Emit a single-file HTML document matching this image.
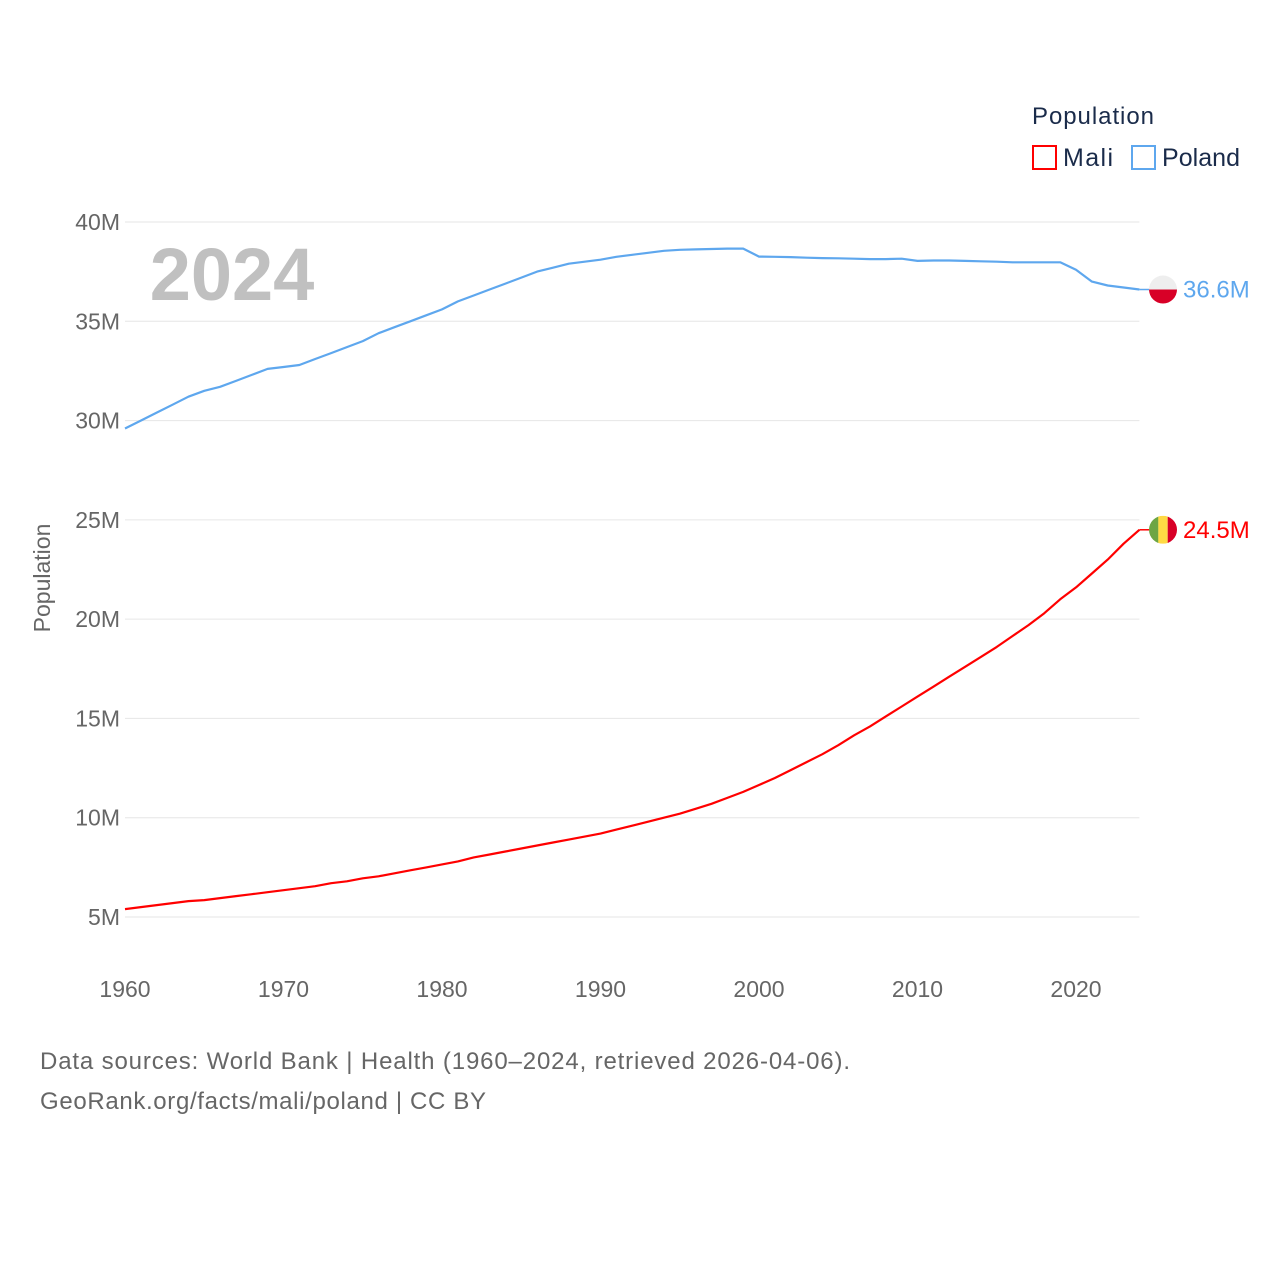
<!DOCTYPE html>
<html><head><meta charset="utf-8">
<style>
body{margin:0;background:#fff;font-family:"Liberation Sans",sans-serif;}
svg{display:block}
text{font-family:"Liberation Sans",sans-serif}
</style></head>
<body>
<svg id="chart" width="1280" height="1280" viewBox="0 0 1280 1280">
<g id="grid"></g>
<g id="yticks"></g>
<g id="xticks"></g>
<text x="232" y="300" text-anchor="middle" font-size="74" font-weight="bold" fill="#c0c0c0">2024</text>
<text transform="translate(50,578) rotate(-90)" text-anchor="middle" font-size="23" fill="#666">Population</text>
<g id="series"></g>
<g>
<text x="1032" y="124" font-size="24" fill="#1a2b4a" textLength="122">Population</text>
<g>
<rect x="1033" y="146" width="23" height="23" fill="none" stroke="#ff0000" stroke-width="2"/>
<text x="1063" y="166" font-size="25" fill="#1a2b4a" textLength="50">Mali</text></g>
<g>
<rect x="1132" y="146" width="23" height="23" fill="none" stroke="#5ea7ee" stroke-width="2"/>
<text x="1162" y="166" font-size="25" fill="#1a2b4a" textLength="78">Poland</text></g>
</g>
<text x="40" y="1069" font-size="24" fill="#666" textLength="810">Data sources: World Bank | Health (1960–2024, retrieved 2026-04-06).</text>
<text x="40" y="1109" font-size="24" fill="#666" textLength="446">GeoRank.org/facts/mali/poland | CC BY</text>
</svg>
<script>
const years = [];
for (let y = 1960; y <= 2024; y++) years.push(y);
const polandValues = [29.6,30.0,30.4,30.8,31.2,31.5,31.7,32.0,32.3,32.6,32.7,32.8,33.1,33.4,33.7,34.0,34.4,34.7,35.0,35.3,35.6,36.0,36.3,36.6,36.9,37.2,37.5,37.7,37.9,38.0,38.1,38.25,38.35,38.45,38.55,38.6,38.62,38.64,38.66,38.66,38.26,38.25,38.23,38.2,38.18,38.17,38.15,38.13,38.13,38.15,38.04,38.06,38.06,38.04,38.02,38.0,37.97,37.97,37.97,37.97,37.6,37.0,36.8,36.7,36.6];
const maliValues = [5.4,5.5,5.6,5.7,5.8,5.85,5.95,6.05,6.15,6.25,6.35,6.45,6.55,6.7,6.8,6.95,7.05,7.2,7.35,7.5,7.65,7.8,8.0,8.15,8.3,8.45,8.6,8.75,8.9,9.05,9.2,9.4,9.6,9.8,10.0,10.2,10.45,10.7,11.0,11.3,11.65,12.0,12.4,12.8,13.2,13.65,14.15,14.6,15.1,15.6,16.1,16.6,17.1,17.6,18.1,18.6,19.15,19.7,20.3,21.0,21.6,22.3,23.0,23.8,24.5];
const yTickValues = [5,10,15,20,25,30,35,40];
const yTickLabels = ["5M","10M","15M","20M","25M","30M","35M","40M"];
const xTickValues = [1960,1970,1980,1990,2000,2010,2020];

const NS = "http://www.w3.org/2000/svg";
const X0 = 125, X1 = 1139.4;
function xScale(yr){ return X0 + (yr - 1960) * (X1 - X0) / 64; }
function yScale(v){ return 917 - (v - 5) * (917 - 222) / 35; }
function mk(tag, attrs, parent){ const e = document.createElementNS(NS, tag); for (const k in attrs) e.setAttribute(k, attrs[k]); parent.appendChild(e); return e; }

const grid = document.getElementById('grid');
const yt = document.getElementById('yticks');
yTickValues.forEach((v, i) => {
  const l = mk('line', {x1: X0, x2: X1, y1: yScale(v), y2: yScale(v), stroke: '#e6e6e6', 'stroke-width': 1}, grid);
  
  
  const t = mk('text', {x: 120, y: yScale(v) + 8, 'text-anchor': 'end', 'font-size': 23, fill: '#666'}, yt);
  t.textContent = yTickLabels[i];
  
  
});
const xt = document.getElementById('xticks');
xTickValues.forEach(v => {
  const t = mk('text', {x: xScale(v), y: 997, 'text-anchor': 'middle', 'font-size': 23, fill: '#666'}, xt);
  t.textContent = String(v);
  
  
});

const series = document.getElementById('series');
function drawLine(vals, color, name){
  const d = vals.map((v, i) => (i ? 'L' : 'M') + xScale(years[i]).toFixed(1) + ',' + yScale(v).toFixed(1)).join('');
  const p = mk('path', {d: d, fill: 'none', stroke: color, 'stroke-width': 2.2, 'stroke-linejoin': 'round'}, series);
  
  
  const last = vals[vals.length - 1], ly = yScale(last), lx = xScale(years[years.length - 1]);
  const c = mk('line', {x1: lx, x2: lx + 10, y1: ly, y2: ly, stroke: color, 'stroke-width': 1.5}, series);
  
  
  return {lx: lx, ly: ly, last: last};
}
function flag(cx, cy, kind){
  const g = mk('g', {}, series);
  
  
  const id = 'clip-' + kind;
  const cp = mk('clipPath', {id: id}, g);
  mk('circle', {cx: cx, cy: cy, r: 14}, cp);
  const inner = mk('g', {'clip-path': 'url(#' + id + ')'}, g);
  if (kind === 'poland') {
    mk('rect', {x: cx - 14, y: cy - 14, width: 28, height: 14, fill: '#eeeeee'}, inner);
    mk('rect', {x: cx - 14, y: cy, width: 28, height: 14, fill: '#d80027'}, inner);
  } else {
    mk('rect', {x: cx - 14, y: cy - 14, width: 9.4, height: 28, fill: '#6da544'}, inner);
    mk('rect', {x: cx - 4.7, y: cy - 14, width: 9.4, height: 28, fill: '#ffda44'}, inner);
    mk('rect', {x: cx + 4.7, y: cy - 14, width: 9.4, height: 28, fill: '#d80027'}, inner);
  }
}
function endLabel(p, color, name){
  flag(1163, p.ly, name);
  const t = mk('text', {x: 1183, y: p.ly + 8, 'font-size': 24, fill: color}, series);
  t.textContent = p.last.toFixed(1) + 'M';
  
  
}
const pp = drawLine(polandValues, '#5ea7ee', 'poland');
const mp = drawLine(maliValues, '#ff0000', 'mali');
endLabel(pp, '#5ea7ee', 'poland');
endLabel(mp, '#ff0000', 'mali');
</script>
</body></html>
